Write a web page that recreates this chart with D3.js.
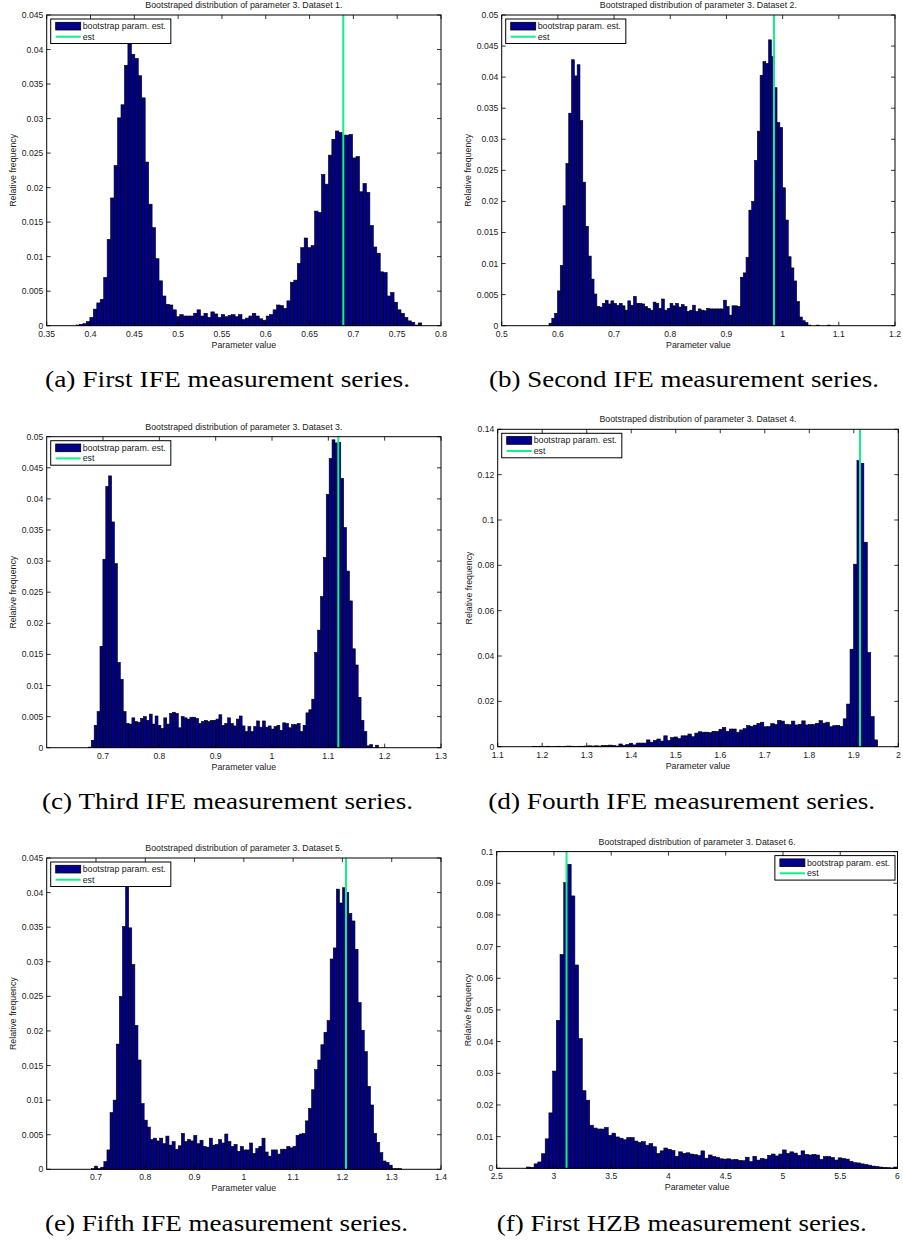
<!DOCTYPE html>
<html>
<head>
<meta charset="utf-8">
<script src="https://cdn.jsdelivr.net/npm/d3@7"></script>
<style>
  html, body { margin: 0; padding: 0; background: #ffffff; }
  svg { display: block; }
</style>
</head>
<body>
<svg id="fig" width="903" height="1243"></svg>
<script>
// ---------------------------------------------------------------------------
// Bootstrap histograms of parameter 3 (relative frequency per bin), six datasets.
// Each dataset: first bin edge, bin width, bin frequencies, point estimate.
// ---------------------------------------------------------------------------

const binStart1 = 0.3835, binWidth1 = 0.003945, est1 = 0.6885;
const freq1 = [
  0.0001,0.0002,0.0003,0.0006,0.0012,0.0024,0.0033,0.0038,0.0070,0.0125,
  0.0185,0.0232,0.0301,0.0320,0.0377,0.0410,0.0393,0.0387,0.0362,0.0330,
  0.0237,0.0176,0.0142,0.0097,0.0065,0.0043,0.0031,0.0030,0.0023,0.0013,
  0.0016,0.0014,0.0014,0.0014,0.0018,0.0023,0.0014,0.0018,0.0012,0.0020,
  0.0017,0.0012,0.0016,0.0013,0.0015,0.0016,0.0013,0.0016,0.0009,0.0011,
  0.0014,0.0018,0.0014,0.0010,0.0008,0.0014,0.0016,0.0023,0.0030,0.0029,
  0.0025,0.0036,0.0063,0.0066,0.0090,0.0113,0.0127,0.0113,0.0116,0.0166,
  0.0164,0.0219,0.0205,0.0247,0.0270,0.0282,0.0280,0.0276,0.0276,0.0277,
  0.0243,0.0245,0.0194,0.0206,0.0193,0.0145,0.0114,0.0105,0.0078,0.0077,
  0.0043,0.0048,0.0034,0.0023,0.0018,0.0012,0.0007,0.0005,0.0001,0.0004
];

const binStart2 = 0.5842, binWidth2 = 0.00501, est2 = 0.9846;
const freq2 = [
  0.0004,0.0012,0.0020,0.0056,0.0097,0.0193,0.0261,0.0342,0.0428,0.0402,
  0.0420,0.0330,0.0231,0.0160,0.0112,0.0075,0.0051,0.0031,0.0030,0.0036,
  0.0041,0.0035,0.0040,0.0036,0.0033,0.0036,0.0032,0.0025,0.0040,0.0033,
  0.0047,0.0036,0.0036,0.0035,0.0031,0.0028,0.0025,0.0038,0.0036,0.0028,
  0.0043,0.0025,0.0028,0.0036,0.0032,0.0036,0.0030,0.0034,0.0031,0.0023,
  0.0025,0.0033,0.0023,0.0027,0.0025,0.0024,0.0028,0.0027,0.0027,0.0027,
  0.0027,0.0027,0.0041,0.0031,0.0017,0.0032,0.0032,0.0031,0.0078,0.0085,
  0.0110,0.0186,0.0200,0.0266,0.0313,0.0403,0.0425,0.0422,0.0460,0.0433,
  0.0383,0.0327,0.0319,0.0222,0.0170,0.0111,0.0093,0.0072,0.0039,0.0014,
  0.0008,0.0005,0.0001,0.0000,0.0000,0.0001,0.0000,0.0000,0.0000,0.0001
];

const binStart3 = 0.674, binWidth3 = 0.00515, est3 = 1.1177;
const freq3 = [
  0.0001,0.0012,0.0036,0.0058,0.0163,0.0303,0.0420,0.0437,0.0363,0.0296,
  0.0137,0.0110,0.0058,0.0039,0.0038,0.0048,0.0042,0.0041,0.0047,0.0050,
  0.0044,0.0054,0.0038,0.0051,0.0036,0.0031,0.0048,0.0038,0.0055,0.0057,
  0.0055,0.0032,0.0050,0.0048,0.0046,0.0049,0.0049,0.0047,0.0039,0.0042,
  0.0044,0.0042,0.0044,0.0044,0.0046,0.0053,0.0036,0.0039,0.0048,0.0039,
  0.0035,0.0046,0.0051,0.0035,0.0026,0.0034,0.0026,0.0034,0.0043,0.0033,
  0.0043,0.0033,0.0035,0.0030,0.0034,0.0036,0.0028,0.0040,0.0039,0.0032,
  0.0037,0.0037,0.0039,0.0026,0.0036,0.0056,0.0061,0.0078,0.0153,0.0189,
  0.0243,0.0306,0.0407,0.0465,0.0495,0.0490,0.0491,0.0433,0.0354,0.0284,
  0.0236,0.0159,0.0133,0.0081,0.0044,0.0026,0.0003,0.0005,0.0000,0.0004
];

const binStart4 = 1.1786, binWidth4 = 0.00775, est4 = 1.914;
const freq4 = [
  0.0002,0.0001,0.0002,0.0001,0.0002,0.0001,0.0001,0.0002,0.0001,0.0002,
  0.0003,0.0002,0.0001,0.0002,0.0002,0.0003,0.0004,0.0003,0.0004,0.0003,
  0.0006,0.0006,0.0007,0.0006,0.0003,0.0012,0.0006,0.0010,0.0014,0.0008,
  0.0016,0.0016,0.0016,0.0030,0.0020,0.0028,0.0034,0.0025,0.0048,0.0027,
  0.0040,0.0043,0.0036,0.0048,0.0048,0.0056,0.0044,0.0060,0.0066,0.0064,
  0.0064,0.0062,0.0068,0.0067,0.0077,0.0085,0.0068,0.0078,0.0078,0.0064,
  0.0074,0.0080,0.0093,0.0090,0.0095,0.0103,0.0108,0.0088,0.0089,0.0102,
  0.0098,0.0116,0.0113,0.0099,0.0097,0.0113,0.0096,0.0099,0.0114,0.0096,
  0.0098,0.0098,0.0103,0.0115,0.0104,0.0108,0.0088,0.0093,0.0094,0.0090,
  0.0123,0.0188,0.0430,0.0805,0.1262,0.1250,0.0902,0.0415,0.0133,0.0030
];

const binStart5 = 0.6908, binWidth5 = 0.00629, est5 = 1.2072;
const freq5 = [
  0.0001,0.0004,0.0001,0.0003,0.0011,0.0028,0.0082,0.0100,0.0181,0.0250,
  0.0351,0.0420,0.0349,0.0296,0.0208,0.0158,0.0095,0.0071,0.0061,0.0043,
  0.0045,0.0041,0.0045,0.0037,0.0048,0.0035,0.0040,0.0029,0.0034,0.0052,
  0.0040,0.0043,0.0041,0.0049,0.0037,0.0042,0.0033,0.0032,0.0045,0.0035,
  0.0036,0.0043,0.0038,0.0051,0.0040,0.0033,0.0036,0.0026,0.0033,0.0028,
  0.0028,0.0038,0.0023,0.0030,0.0033,0.0045,0.0025,0.0019,0.0028,0.0028,
  0.0022,0.0029,0.0029,0.0033,0.0031,0.0033,0.0049,0.0051,0.0052,0.0070,
  0.0088,0.0115,0.0144,0.0158,0.0180,0.0198,0.0215,0.0304,0.0320,0.0405,
  0.0385,0.0407,0.0400,0.0370,0.0359,0.0318,0.0241,0.0201,0.0170,0.0120,
  0.0093,0.0052,0.0039,0.0024,0.0012,0.0010,0.0006,0.0001,0.0001,0.0001
];

const binStart6 = 2.7617, binWidth6 = 0.03238, est6 = 3.11;
const freq6 = [
  0.0004,0.0003,0.0014,0.0020,0.0046,0.0093,0.0175,0.0307,0.0467,0.0675,
  0.0902,0.0960,0.0860,0.0642,0.0410,0.0245,0.0215,0.0136,0.0127,0.0124,
  0.0124,0.0129,0.0104,0.0111,0.0099,0.0095,0.0090,0.0097,0.0097,0.0086,
  0.0082,0.0084,0.0073,0.0078,0.0068,0.0047,0.0055,0.0064,0.0060,0.0056,
  0.0038,0.0052,0.0047,0.0049,0.0045,0.0043,0.0040,0.0055,0.0032,0.0042,
  0.0037,0.0035,0.0030,0.0029,0.0030,0.0027,0.0028,0.0025,0.0024,0.0035,
  0.0021,0.0038,0.0026,0.0031,0.0029,0.0041,0.0045,0.0039,0.0045,0.0058,
  0.0047,0.0052,0.0048,0.0041,0.0055,0.0044,0.0042,0.0044,0.0042,0.0028,
  0.0037,0.0037,0.0034,0.0026,0.0033,0.0031,0.0029,0.0022,0.0018,0.0017,
  0.0014,0.0012,0.0010,0.0007,0.0006,0.0004,0.0003,0.0002,0.0001,0.0004
];

// Axis limits and tick values
const xDomains = [[0.35, 0.8], [0.5, 1.2], [0.6, 1.3], [1.1, 2.0], [0.6, 1.4], [2.5, 6.0]];
const yDomains = [[0, 0.045], [0, 0.05], [0, 0.05], [0, 0.14], [0, 0.045], [0, 0.1]];
const xTicks1 = [0.35, 0.4, 0.45, 0.5, 0.55, 0.6, 0.65, 0.7, 0.75, 0.8];
const xTicks2 = [0.5, 0.6, 0.7, 0.8, 0.9, 1.0, 1.1, 1.2];
const xTicks3 = [0.7, 0.8, 0.9, 1.0, 1.1, 1.2, 1.3];
const xTicks4 = [1.1, 1.2, 1.3, 1.4, 1.5, 1.6, 1.7, 1.8, 1.9, 2.0];
const xTicks5 = [0.7, 0.8, 0.9, 1.0, 1.1, 1.2, 1.3, 1.4];
const xTicks6 = [2.5, 3.0, 3.5, 4.0, 4.5, 5.0, 5.5, 6.0];
const yTicks1 = [0, 0.005, 0.01, 0.015, 0.02, 0.025, 0.03, 0.035, 0.04, 0.045];
const yTicks2 = [0, 0.005, 0.01, 0.015, 0.02, 0.025, 0.03, 0.035, 0.04, 0.045, 0.05];
const yTicks3 = yTicks2;
const yTicks4 = [0, 0.02, 0.04, 0.06, 0.08, 0.1, 0.12, 0.14];
const yTicks5 = yTicks1;
const yTicks6 = [0, 0.01, 0.02, 0.03, 0.04, 0.05, 0.06, 0.07, 0.08, 0.09, 0.1];

// Texts
const datasetNames = ["Dataset 1.", "Dataset 2.", "Dataset 3.", "Dataset 4.", "Dataset 5.", "Dataset 6."];
const captions = [
  "(a) First IFE measurement series.",
  "(b) Second IFE measurement series.",
  "(c) Third IFE measurement series.",
  "(d) Fourth IFE measurement series.",
  "(e) Fifth IFE measurement series.",
  "(f) First HZB measurement series."
];
const legendLabels = ["bootstrap param. est.", "est"];
const xLabel = "Parameter value";
const yLabel = "Relative frequency";

// ---------------------------------------------------------------------------
// Page layout (pixel boxes of each axes, caption placement)
// ---------------------------------------------------------------------------
const layout = [
  { l: 46.7,  r: 441.0, t: 15.0,  b: 325.7,  capX: 227.5, capY: 387.0,  capW: 365, legendRight: false },
  { l: 501.7, r: 895.0, t: 15.0,  b: 325.7,  capX: 684.0, capY: 387.0,  capW: 390, legendRight: false },
  { l: 46.7,  r: 441.0, t: 436.7, b: 747.7,  capX: 227.5, capY: 808.5,  capW: 371, legendRight: false },
  { l: 497.7, r: 898.3, t: 429.3, b: 746.7,  capX: 681.7, capY: 808.5,  capW: 387, legendRight: false },
  { l: 46.7,  r: 441.0, t: 858.0, b: 1169.3, capX: 226.5, capY: 1230.7, capW: 363, legendRight: false },
  { l: 496.7, r: 897.5, t: 851.6, b: 1168.3, capX: 681.7, capY: 1230.7, capW: 370, legendRight: true }
];

const datasets = [
  { freq: freq1, start: binStart1, width: binWidth1, est: est1, xTicks: xTicks1, yTicks: yTicks1 },
  { freq: freq2, start: binStart2, width: binWidth2, est: est2, xTicks: xTicks2, yTicks: yTicks2 },
  { freq: freq3, start: binStart3, width: binWidth3, est: est3, xTicks: xTicks3, yTicks: yTicks3 },
  { freq: freq4, start: binStart4, width: binWidth4, est: est4, xTicks: xTicks4, yTicks: yTicks4 },
  { freq: freq5, start: binStart5, width: binWidth5, est: est5, xTicks: xTicks5, yTicks: yTicks5 },
  { freq: freq6, start: binStart6, width: binWidth6, est: est6, xTicks: xTicks6, yTicks: yTicks6 }
];

const BAR_FILL = "#00008c";
const EST_COLOR = "#10f088";
const SANS = "'Liberation Sans', Arial, Helvetica, sans-serif";
const SERIF = "'Liberation Serif', 'Times New Roman', serif";
const TEXT_COLOR = "#1a1a1a";
const TICK_LEN = 4;

const svg = d3.select("#fig");
const fmt = v => d3.format("~g")(+v.toFixed(6));

datasets.forEach((ds, k) => {
  const box = layout[k];
  const x = d3.scaleLinear().domain(xDomains[k]).range([box.l, box.r]);
  const y = d3.scaleLinear().domain(yDomains[k]).range([box.b, box.t]);
  const g = svg.append("g").attr("class", "panel");

  // histogram bars
  const bins = ds.freq.map((v, i) => ({
    x0: ds.start + i * ds.width,
    x1: ds.start + (i + 1) * ds.width,
    v: v
  }));
  g.append("g").selectAll("rect")
    .data(bins.filter(d => d.v > 0))
    .join("rect")
    .attr("x", d => x(d.x0))
    .attr("width", d => x(d.x1) - x(d.x0))
    .attr("y", d => y(d.v))
    .attr("height", d => y(0) - y(d.v))
    .attr("fill", BAR_FILL)
    .attr("stroke", "#000")
    .attr("stroke-width", 0.6);

  // point estimate
  g.append("line")
    .attr("x1", x(ds.est)).attr("x2", x(ds.est))
    .attr("y1", y(yDomains[k][0])).attr("y2", y(yDomains[k][1]))
    .attr("stroke", EST_COLOR).attr("stroke-width", 2);

  // axes box
  g.append("rect")
    .attr("x", box.l).attr("y", box.t)
    .attr("width", box.r - box.l).attr("height", box.b - box.t)
    .attr("fill", "none").attr("stroke", "#000").attr("stroke-width", 1);

  // ticks on all four sides, pointing inwards
  const tk = g.append("g").attr("stroke", "#000").attr("stroke-width", 0.8);
  ds.xTicks.forEach(v => {
    tk.append("line").attr("x1", x(v)).attr("x2", x(v)).attr("y1", box.b).attr("y2", box.b - TICK_LEN);
    tk.append("line").attr("x1", x(v)).attr("x2", x(v)).attr("y1", box.t).attr("y2", box.t + TICK_LEN);
  });
  ds.yTicks.forEach(v => {
    tk.append("line").attr("x1", box.l).attr("x2", box.l + TICK_LEN).attr("y1", y(v)).attr("y2", y(v));
    tk.append("line").attr("x1", box.r).attr("x2", box.r - TICK_LEN).attr("y1", y(v)).attr("y2", y(v));
  });

  // tick labels
  g.append("g").selectAll("text")
    .data(ds.xTicks).join("text")
    .attr("x", d => x(d)).attr("y", box.b + 11)
    .attr("text-anchor", "middle")
    .attr("font-family", SANS).attr("font-size", 8.6).attr("fill", TEXT_COLOR)
    .text(fmt);
  const yLab = g.append("g").selectAll("text")
    .data(ds.yTicks).join("text")
    .attr("x", box.l - 3.4).attr("y", d => y(d) + 3)
    .attr("text-anchor", "end")
    .attr("font-family", SANS).attr("font-size", 8.6).attr("fill", TEXT_COLOR)
    .text(fmt);
  let maxW = 0;
  yLab.each(function () { maxW = Math.max(maxW, this.getComputedTextLength()); });

  // axis labels
  g.append("text")
    .attr("x", (box.l + box.r) / 2).attr("y", box.b + 21.8)
    .attr("text-anchor", "middle")
    .attr("font-family", SANS).attr("font-size", 8.8).attr("fill", TEXT_COLOR)
    .text(xLabel);
  const ylx = box.l - 3.4 - maxW - 5.5;
  const yly = (box.t + box.b) / 2;
  g.append("text")
    .attr("transform", `translate(${ylx},${yly}) rotate(-90)`)
    .attr("text-anchor", "middle")
    .attr("font-family", SANS).attr("font-size", 8.8).attr("fill", TEXT_COLOR)
    .text(yLabel);

  // title
  g.append("text")
    .attr("x", (box.l + box.r) / 2).attr("y", box.t - 7)
    .attr("text-anchor", "middle")
    .attr("font-family", SANS).attr("font-size", 8.8).attr("fill", TEXT_COLOR)
    .text("Bootstraped distribution of parameter 3. " + datasetNames[k]);

  // legend
  const lg = g.append("g");
  const probe = lg.append("text")
    .attr("font-family", SANS).attr("font-size", 8.8)
    .text(legendLabels[0]);
  const textW = probe.node().getComputedTextLength();
  probe.remove();
  const lw = 32 + textW + 5, lh = 24.5;
  const lx = box.legendRight ? box.r - 2.5 - lw : box.l + 4;
  const ly = box.t + 4;
  lg.append("rect")
    .attr("x", lx).attr("y", ly).attr("width", lw).attr("height", lh)
    .attr("fill", "#fff").attr("stroke", "#000").attr("stroke-width", 1);
  lg.append("rect")
    .attr("x", lx + 5).attr("y", ly + 3.3).attr("width", 25).attr("height", 7.7)
    .attr("fill", BAR_FILL).attr("stroke", "#000").attr("stroke-width", 0.8);
  lg.append("line")
    .attr("x1", lx + 5).attr("x2", lx + 30)
    .attr("y1", ly + 17.7).attr("y2", ly + 17.7)
    .attr("stroke", EST_COLOR).attr("stroke-width", 2);
  lg.selectAll("text.lbl")
    .data(legendLabels).join("text")
    .attr("class", "lbl")
    .attr("x", lx + 32).attr("y", (d, i) => ly + 10 + i * 10.7)
    .attr("font-family", SANS).attr("font-size", 8.8).attr("fill", TEXT_COLOR)
    .text(d => d);

  // subfigure caption, glyphs widened to the serif caption width
  svg.append("text")
    .attr("x", box.capX).attr("y", box.capY)
    .attr("text-anchor", "middle")
    .attr("font-family", SERIF).attr("font-size", 23).attr("fill", "#000")
    .attr("textLength", box.capW).attr("lengthAdjust", "spacingAndGlyphs")
    .text(captions[k]);
});
</script>
</body>
</html>
